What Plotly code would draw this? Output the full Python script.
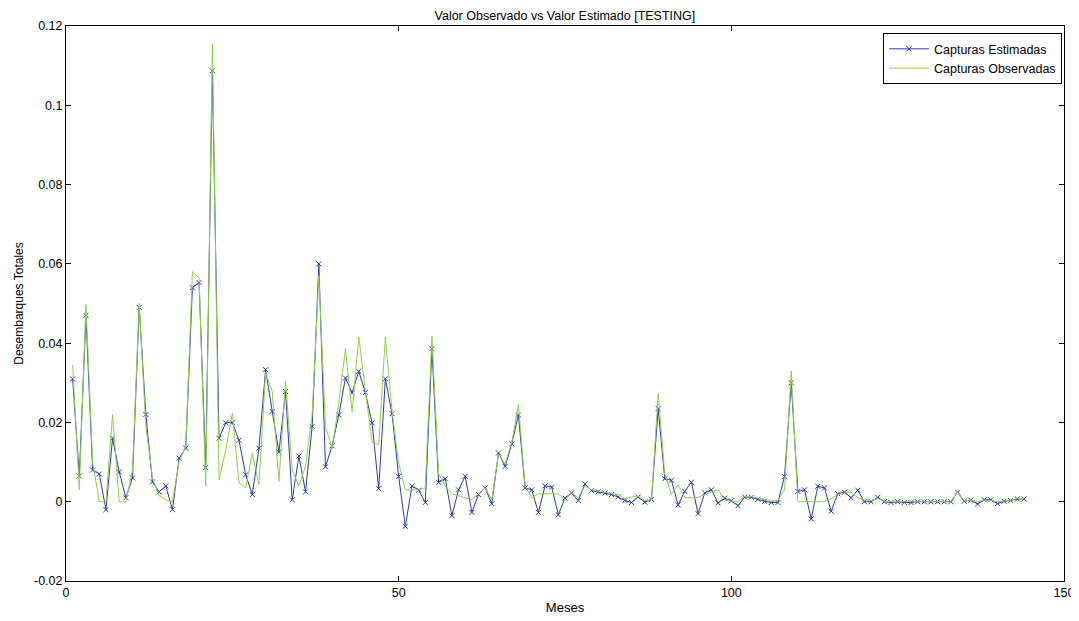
import plotly.graph_objects as go

months = list(range(1, 145))

estimadas = [
    0.031, 0.0065, 0.047, 0.008, 0.007, -0.002, 0.016, 0.0075, 0.001, 0.006,
    0.049, 0.022, 0.005, 0.0025, 0.004, -0.002, 0.011, 0.0135, 0.054, 0.0553,
    0.0086, 0.1087, 0.016, 0.0199, 0.020, 0.0155, 0.0068, 0.0018, 0.0135, 0.0333,
    0.0228, 0.0125, 0.0278, 0.0005, 0.0115, 0.0025, 0.019, 0.060, 0.0088, 0.0141,
    0.0219, 0.0312, 0.0275, 0.0329, 0.0275, 0.0199, 0.0033, 0.031, 0.0222, 0.0064,
    -0.0062, 0.004, 0.0029, -0.0002, 0.0386, 0.0049, 0.0058, -0.0035, 0.003, 0.0064,
    -0.0027, 0.0018, 0.0035, -0.0005, 0.0123, 0.0089, 0.0146, 0.0219, 0.0035, 0.003,
    -0.0027, 0.004, 0.0037, -0.0033, 0.0009, 0.0022, 0.0003, 0.0045, 0.0028, 0.0025,
    0.0022, 0.0018, 0.0012, 0.0003, -0.0002, 0.0012, -0.0001, 0.0006, 0.0235, 0.0058,
    0.0054, -0.0008, 0.0026, 0.0049, -0.003, 0.0022, 0.003, -0.0003, 0.0009, 0.0002,
    -0.001, 0.0012, 0.0011, 0.0006, 0.0001, -0.0002, -0.0002, 0.0064, 0.030, 0.0026,
    0.003, -0.0043, 0.0039, 0.0035, -0.0024, 0.002, 0.0024, 0.001, 0.0029, 0.0,
    0.0, 0.0011, 0.0, -0.0002, 0.0, -0.0002, -0.0002, 0.0, 0.0, 0.0,
    0.0, 0.0, 0.0, 0.0024, 0.0001, 0.0004, -0.0006, 0.0005, 0.0005, -0.0005,
    0.0001, 0.0003, 0.0007, 0.0007,
]

observadas = [
    0.0345, 0.003, 0.0497, 0.010, 0.0, 0.0, 0.022, 0.0, 0.0, 0.008,
    0.050, 0.019, 0.006, 0.0015, 0.0005, 0.0, 0.010, 0.014, 0.058, 0.0565,
    0.004, 0.1155, 0.0055, 0.013, 0.0224, 0.0048, 0.0035, 0.0123, 0.0043, 0.0325,
    0.0278, 0.0051, 0.0303, 0.008, 0.004, 0.009, 0.022, 0.057, 0.019, 0.0134,
    0.025, 0.0386, 0.0227, 0.0416, 0.028, 0.015, 0.0144, 0.0416, 0.023, 0.0098,
    0.003, 0.003, 0.003, 0.0035, 0.0417, 0.007, 0.004, 0.002, 0.0015, 0.001,
    0.0005, 0.002, 0.0035, 0.0005, 0.012, 0.0095, 0.015, 0.0245, 0.004, 0.001,
    0.002, 0.002, 0.002, 0.002, 0.0005, 0.0023, 0.001, 0.004, 0.003, 0.0027,
    0.0024, 0.002, 0.0018, 0.0008, 0.0012, 0.0013, 0.0003, 0.0005, 0.0272, 0.007,
    0.0018, 0.0043, 0.001, 0.001, 0.0011, 0.0018, 0.0024, 0.003, 0.0005, 0.0,
    0.0, 0.0013, 0.0013, 0.001, 0.0006, 0.0001, 0.0003, 0.003, 0.033, 0.0,
    0.0, 0.0, 0.0, 0.0, 0.0008, 0.0018, 0.0022, 0.0024, 0.001, 0.0005,
    0.0003, 0.0008, 0.0002, 0.0, 0.0002, 0.0, 0.0001, 0.0001, 0.0001, 0.0001,
    0.0001, 0.0001, 0.0001, 0.0024, 0.0002, 0.0004, 0.0, 0.0004, 0.0003, 0.0,
    0.0002, 0.0004, 0.0008, 0.0008,
]

x_ticks = [0, 50, 100, 150]
y_ticks = [-0.02, 0, 0.02, 0.04, 0.06, 0.08, 0.1, 0.12]
y_ticktext = ["-0.02", "0", "0.02", "0.04", "0.06", "0.08", "0.1", "0.12"]

blue = "rgb(45,60,170)"
green = "rgb(145,208,75)"
font = "Liberation Sans, Arial, sans-serif"

fig = go.Figure()
fig.add_trace(go.Scatter(
    x=months, y=estimadas, name="Capturas Estimadas", mode="lines+markers",
    line=dict(color=blue, width=1),
    marker=dict(symbol="x-thin-open", size=5, color=blue, line=dict(color=blue, width=1)),
))
fig.add_trace(go.Scatter(
    x=months, y=observadas, name="Capturas Observadas", mode="lines",
    line=dict(color=green, width=1),
))

axis_common = dict(
    showgrid=False, zeroline=False, showline=True, linecolor="black", linewidth=1,
    mirror="allticks", ticks="inside", ticklen=5, tickcolor="black", automargin=False,
    tickfont=dict(family=font, size=12.5, color="black"),
)

# The page body adds an 8px offset, so the figure is sized to fit the 1079x621 window.
fig.update_layout(
    width=1071, height=613,
    paper_bgcolor="white", plot_bgcolor="white",
    margin=dict(l=58, r=15, t=18, b=40),
    title=dict(text="Valor Observado vs Valor Estimado [TESTING]", x=0.52, xanchor="center",
               y=1 - 7.5 / 613, yanchor="middle", font=dict(family=font, size=12.5, color="black")),
    xaxis=dict(range=[0, 150], tickvals=x_ticks, ticktext=[str(v) for v in x_ticks],
               title=dict(text="Meses", font=dict(family=font, size=13, color="black"), standoff=3),
               **axis_common),
    yaxis=dict(range=[-0.02, 0.12], tickvals=y_ticks, ticktext=y_ticktext,
               title=dict(text="Desembarques Totales", font=dict(family=font, size=12, color="black"), standoff=7),
               **axis_common),
    legend=dict(x=0.998, xanchor="right", y=0.987, yanchor="top",
                bordercolor="black", borderwidth=1, bgcolor="white",
                font=dict(family=font, size=12.5, color="black"),
                itemwidth=40, tracegroupgap=0),
    showlegend=True,
)

fig.write_html("out.html")
